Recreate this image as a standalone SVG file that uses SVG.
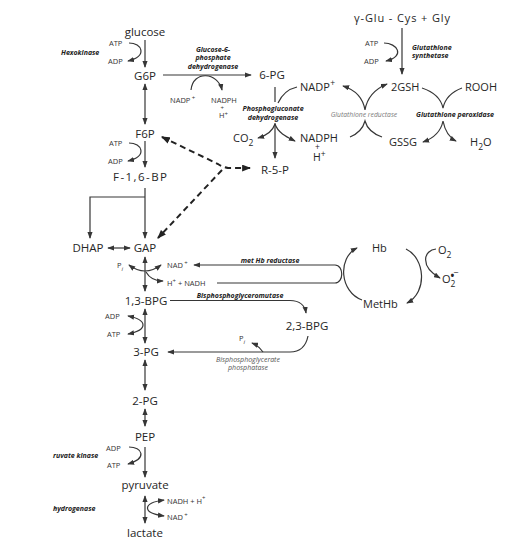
<svg xmlns="http://www.w3.org/2000/svg" width="505" height="546" viewBox="0 0 505 546">
<defs>
<style>
text{font-family:"Open Sans","Liberation Sans",sans-serif;fill:#262626}
.m{font-size:11.5px}
.r{font-size:11px}
.s{font-size:7.5px;fill:#333}
.e{font-size:7px;font-weight:bold;font-style:italic;fill:#222}
.g{font-size:6.8px;font-style:italic;fill:#7a7a7a}
.p{font-size:7px;font-style:italic;fill:#555}
.ln{fill:none;stroke:#363636;stroke-width:1.2}
.a{marker-end:url(#ah)}
.b{marker-start:url(#ah);marker-end:url(#ah)}
.d{fill:none;stroke:#222;stroke-width:2;stroke-dasharray:6 4}
</style>
<marker id="ah" viewBox="0 0 8 6" refX="7" refY="3" markerWidth="7" markerHeight="5.5" markerUnits="userSpaceOnUse" orient="auto-start-reverse"><path d="M0,0 L8,3 L0,6 z" fill="#363636"/></marker>
<marker id="ahd" viewBox="0 0 8 6" refX="7" refY="3" markerWidth="9" markerHeight="7" markerUnits="userSpaceOnUse" orient="auto-start-reverse"><path d="M0,0 L8,3 L0,6 z" fill="#222"/></marker>
</defs>

<g id="connectors">
<path class="ln a" d="M145,40 L145,67"/>
<path class="ln b" d="M145,84 L145,124"/>
<path class="ln a" d="M145,141 L145,167"/>
<path class="ln a" d="M145,188 L145,238"/>
<path class="ln a" d="M145,197 L90,197 L90,238"/>
<path class="ln b" d="M108,248 L130,248"/>
<path class="ln b" d="M145,257 L145,291"/>
<path class="ln b" d="M145,309 L145,343"/>
<path class="ln b" d="M145,360 L145,390"/>
<path class="ln b" d="M145,409 L145,426"/>
<path class="ln a" d="M145,447 L145,477"/>
<path class="ln b" d="M145,496 L145,523"/>
<path class="ln a" d="M129,43 C142,43 148,56 128,61"/>
<path class="ln a" d="M129,143 C142,143 148,156 128,161"/>
<path class="ln b" d="M129,265 Q145,277 161,265"/>
<path class="ln a" d="M146,272 Q151,281 163,281"/>
<path class="ln b" d="M128,316 C148,320 148,330 128,334"/>
<path class="ln a" d="M129,447 C142,447 148,458 128,464"/>
<path class="ln b" d="M164,500 C142,503 142,513 164,516"/>
<path class="ln a" d="M163,75 L251,75"/>
<path class="ln a" d="M191,90 C193,70 218,72 222,90"/>
<path class="ln" d="M275,87 L275,102"/>
<path class="ln a" d="M275,123 L275,158"/>
<path class="ln" d="M278,103 Q284,90 297,87"/>
<path class="ln a" d="M275,124 C272,133 265,136 258,138"/>
<path class="ln a" d="M275,124 C278,133 287,137 295,141"/>
<path class="d" marker-start="url(#ahd)" marker-end="url(#ahd)" d="M162,137 L218,164 Q222,167 228,168 L250,168"/>
<path class="d" marker-end="url(#ahd)" d="M222,170 L158,238"/>
<path class="ln a" d="M402,28 L402,74"/>
<path class="ln a" d="M384,43 C397,43 406,56 386,61"/>
<path class="ln b" d="M343,86 Q362,92 365,110 Q368,92 387,84"/>
<path class="ln" d="M350,137 Q362,132 365,121 Q368,132 382,137"/>
<path class="ln" d="M422,88 Q440,94 443,108 Q446,94 462,88"/>
<path class="ln b" d="M423,142 Q440,136 443,121 Q446,136 456,141"/>
<path class="ln a" d="M217,283 L335,283 C344,283 344,265 335,265 L194,265"/>
<path class="ln a" d="M362,300 C340,292 337,258 357,248"/>
<path class="ln a" d="M406,249 C425,258 428,292 407,303"/>
<path class="ln a" d="M436,249 C424,250 419,266 440,278"/>
<path class="ln a" d="M170,300.5 L290,300.5 C300,300.5 305,306 306,313"/>
<path class="ln a" d="M308,336 C306,346 300,352 290,352 L168,352"/>
<path class="ln a" d="M263,352 C260,348 257,345 252,343"/>
</g>

<g id="glucose"><text class="m" x="145" y="36" text-anchor="middle">glucose</text></g>
<g id="hexokinase"><text class="e" x="61" y="55">Hexokinase</text></g>
<g id="atp-adp-1"><text class="s" x="109" y="46">ATP</text><text class="s" x="108" y="64">ADP</text></g>
<g id="G6P"><text class="m" x="145" y="80" text-anchor="middle">G6P</text></g>
<g id="g6pd"><text class="e" x="213" y="52" text-anchor="middle">Glucose-6-<tspan x="213" dy="8">phosphate</tspan><tspan x="213" dy="8.5">dehydrogenase</tspan></text></g>
<g id="nadp-small"><text class="s" x="170" y="103">NADP<tspan dx="1.5" dy="-3.5" font-size="6">+</tspan></text></g>
<g id="nadph-small"><text class="s" x="211" y="103">NADPH<tspan x="220.5" dy="6.5" font-size="6">+</tspan><tspan x="219" dy="8.5">H</tspan><tspan dy="-2.5" font-size="6">+</tspan></text></g>
<g id="6PG"><text class="m" x="272" y="79" text-anchor="middle">6-PG</text></g>
<g id="pgd"><text class="e" x="273" y="110.5" text-anchor="middle">Phosphogluconate<tspan x="273" dy="9">dehydrogenase</tspan></text></g>
<g id="CO2"><text class="r" x="233" y="142">CO<tspan dy="3.5" font-size="8.5">2</tspan></text></g>
<g id="NADPH"><text class="r" x="300" y="141.5">NADPH<tspan x="315" dy="8" font-size="8.5">+</tspan><tspan x="313" dy="11" font-size="10.5">H</tspan><tspan dy="-4" font-size="8.5">+</tspan></text></g>
<g id="R5P"><text class="m" x="275" y="174" text-anchor="middle">R-5-P</text></g>
<g id="F6P"><text class="m" x="145" y="138" text-anchor="middle">F6P</text></g>
<g id="atp-adp-2"><text class="s" x="109" y="146">ATP</text><text class="s" x="108" y="164">ADP</text></g>
<g id="F16BP"><text class="m" x="140" y="181" text-anchor="middle" textLength="54" lengthAdjust="spacing">F-1,6-BP</text></g>
<g id="DHAP"><text class="m" x="88" y="252" text-anchor="middle">DHAP</text></g>
<g id="GAP"><text class="m" x="145" y="252" text-anchor="middle">GAP</text></g>
<g id="gap-cof"><text class="s" x="117" y="268">P<tspan dy="2.5" font-size="6" font-style="italic">i</tspan></text><text class="s" x="167" y="268">NAD<tspan dx="1.5" dy="-3.5" font-size="6">+</tspan></text><text class="s" x="167" y="286">H<tspan dy="-3.5" font-size="6">+</tspan><tspan dy="3.5"> + NADH</tspan></text></g>
<g id="BPG13"><text class="m" x="146" y="305" text-anchor="middle">1,3-BPG</text></g>
<g id="adp-atp-3"><text class="s" x="105" y="319">ADP</text><text class="s" x="107" y="337">ATP</text></g>
<g id="PG3"><text class="m" x="146" y="356" text-anchor="middle">3-PG</text></g>
<g id="PG2"><text class="m" x="145" y="405" text-anchor="middle">2-PG</text></g>
<g id="PEP"><text class="m" x="145" y="441" text-anchor="middle">PEP</text></g>
<g id="pk"><text class="e" x="53" y="457.5">ruvate kinase</text><text class="s" x="106" y="451">ADP</text><text class="s" x="107" y="468">ATP</text></g>
<g id="pyruvate"><text class="m" x="145" y="489" text-anchor="middle">pyruvate</text></g>
<g id="ldh"><text class="e" x="53" y="510.5">hydrogenase</text><text class="s" x="167" y="503.5">NADH + H<tspan dy="-3.5" font-size="6">+</tspan></text><text class="s" x="167" y="520">NAD<tspan dx="1.5" dy="-3.5" font-size="6">+</tspan></text></g>
<g id="lactate"><text class="m" x="145" y="537" text-anchor="middle">lactate</text></g>

<g id="gluCysGly"><text class="r" x="402" y="22" text-anchor="middle" textLength="96" lengthAdjust="spacing">γ-Glu - Cys + Gly</text></g>
<g id="gs"><text class="s" x="365" y="46">ATP</text><text class="s" x="364" y="64">ADP</text><text class="e" x="412" y="50">Glutathione<tspan x="412" dy="7.5">synthetase</tspan></text></g>
<g id="NADP"><text class="r" x="300" y="91">NADP<tspan dx="0.5" dy="-5" font-size="8.5">+</tspan></text></g>
<g id="GSH"><text class="r" x="391" y="91">2GSH</text></g>
<g id="ROOH"><text class="r" x="465" y="91">ROOH</text></g>
<g id="gr"><text class="g" x="364" y="116.5" text-anchor="middle">Glutathione reductase</text></g>
<g id="gpx"><text class="e" x="455" y="116.5" text-anchor="middle">Glutathione peroxidase</text></g>
<g id="GSSG"><text class="r" x="389" y="146">GSSG</text></g>
<g id="H2O"><text class="r" x="470" y="146">H<tspan dy="3.5" font-size="8.5">2</tspan><tspan dy="-3.5">O</tspan></text></g>

<g id="mhr"><text class="e" x="270" y="262.5" text-anchor="middle">met Hb reductase</text></g>
<g id="Hb"><text class="r" x="372" y="252">Hb</text></g>
<g id="O2"><text class="r" x="438" y="254">O<tspan dy="3.5" font-size="8.5">2</tspan></text></g>
<g id="O2rad"><text class="r" x="442" y="283">O<tspan dy="3.5" font-size="8.5">2</tspan><tspan dx="-5" dy="-8" font-size="10" font-weight="bold">•</tspan><tspan dx="-1" dy="-3" font-size="9">−</tspan></text></g>
<g id="MetHb"><text class="r" x="363" y="308">MetHb</text></g>
<g id="bpgm"><text class="e" x="240" y="297.5" text-anchor="middle">Bisphosphoglyceromutase</text></g>
<g id="BPG23"><text class="m" x="307" y="330" text-anchor="middle">2,3-BPG</text></g>
<g id="pi2"><text class="s" x="239" y="341">P<tspan dy="2.5" font-size="6" font-style="italic">i</tspan></text></g>
<g id="bpgp"><text class="p" x="248" y="362" text-anchor="middle">Bisphosphoglycerate<tspan x="248" dy="8">phosphatase</tspan></text></g>
</svg>
